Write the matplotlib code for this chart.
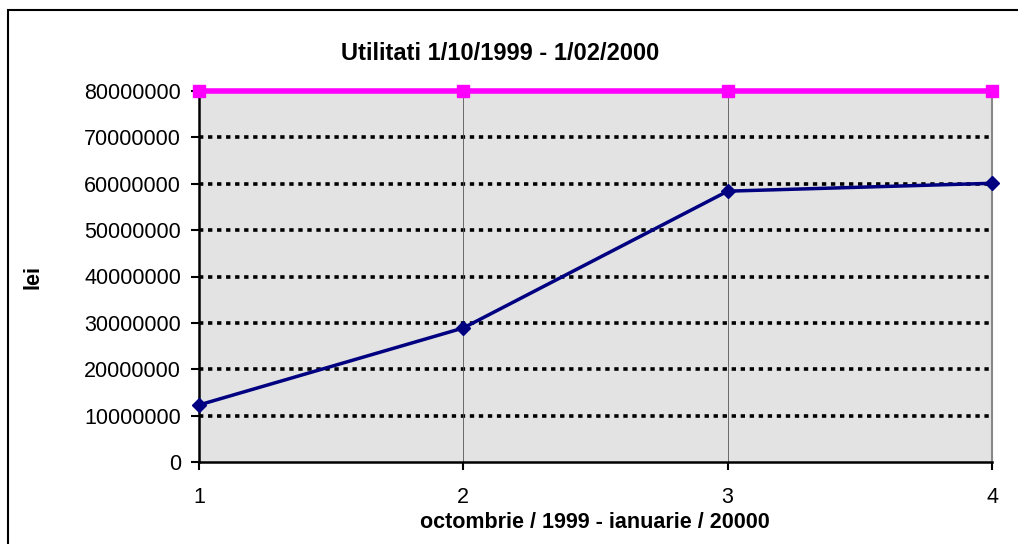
import matplotlib
matplotlib.use("Agg")
import matplotlib.pyplot as plt
from matplotlib.patches import Rectangle
from matplotlib.ticker import FuncFormatter

plt.rcParams['font.family'] = ['Liberation Sans', 'DejaVu Sans']

luni = [1, 2, 3, 4]
utilitati = [12300000, 28900000, 58400000, 60100000]
plafon = [79900000, 79900000, 79900000, 79900000]
y_ticks = [0, 10000000, 20000000, 30000000, 40000000, 50000000, 60000000, 70000000, 80000000]

fig = plt.figure(figsize=(10.18, 5.44), dpi=100)
fig.patch.set_facecolor("white")
# chart border
fig.patches.append(Rectangle((8 / 1018, -0.1), 1.2, 1 - 10 / 544 + 0.1,
                             transform=fig.transFigure, fill=False,
                             edgecolor="black", linewidth=1.5))

ax = fig.add_axes([199 / 1018, 82 / 544, 793 / 1018, 371 / 544])
ax.set_facecolor("#e3e3e3")

for yv in y_ticks[1:-1]:
    ax.axhline(yv, color="black", linestyle=(0, (1.2, 1.3)), linewidth=2.6, zorder=1)
for xv in luni[1:-1]:
    ax.axvline(xv, color="#555555", linewidth=0.6, zorder=1)

ax.plot(luni, plafon, color="#ff00ff", linewidth=4, marker="s", markersize=8,
        clip_on=False, zorder=4)
ax.plot(luni, utilitati, color="#000080", linewidth=2.5, marker="D", markersize=7,
        clip_on=False, zorder=5)

ax.set_xlim(1, 4)
ax.set_ylim(0, 80000000)
ax.set_xticks(luni)
ax.set_yticks(y_ticks)
ax.yaxis.set_major_formatter(FuncFormatter(lambda v, p: "%d" % v))
ax.tick_params(axis="both", direction="out", length=6, width=1.5, labelsize=15.5, pad=7)
ax.tick_params(axis="x", pad=12)

ax.spines["top"].set_visible(False)
ax.spines["right"].set_color("#888888")
ax.spines["right"].set_linewidth(1.5)
ax.spines["left"].set_linewidth(1.8)
ax.spines["bottom"].set_linewidth(1.8)

fig.text(500 / 1018, 1 - 53 / 544, "Utilitati 1/10/1999 - 1/02/2000",
         ha="center", va="center", fontsize=17, fontweight="bold")
fig.text(595 / 1018, 1 - 522 / 544, "octombrie / 1999 - ianuarie / 20000",
         ha="center", va="center", fontsize=15.5, fontweight="bold")
fig.text(33 / 1018, 1 - 277 / 544, "lei", rotation=90,
         ha="center", va="center", fontsize=15.5, fontweight="bold")

fig.savefig("out.png", dpi=100)
